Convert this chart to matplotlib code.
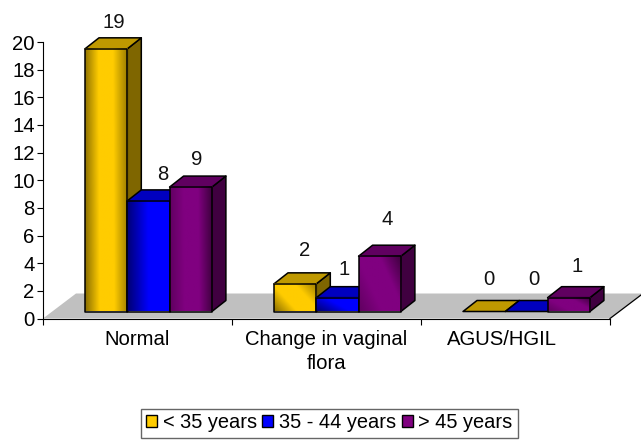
import matplotlib
matplotlib.use('Agg')
import matplotlib.pyplot as plt
import numpy as np
from matplotlib.colors import LinearSegmentedColormap
from matplotlib.patches import Patch, Polygon

plt.rcParams['font.family'] = ['Liberation Sans', 'DejaVu Sans']
plt.rcParams['font.size'] = 14.6

categories = ['Normal', 'Change in vaginal\nflora', 'AGUS/HGIL']
series = ['< 35 years', '35 - 44 years', '> 45 years']
young = [19, 2, 0]
middle = [8, 1, 0]
old = [9, 4, 1]
yticks = list(range(0, 21, 2))

# gradient stops, then top and side colours
styles = [
    (['#8a6e00', '#ffcc00', '#ffcc00', '#9a7b00'], '#bf9900', '#7f6600'),
    (['#000070', '#0000ff', '#0000ff'], '#0000bf', '#00007f'),
    (['#600060', '#800080', '#800080', '#3a003a'], '#600060', '#400040'),
]
legend_colors = ['#ffcc00', '#0000ff', '#800080']

# sizes in axes units (1 category wide, 1 per count high)
px_x = 1 / 189
px_y = 20 / 276.5
bar_w = 42.3 * px_x
depth_x = 14 * px_x
depth_y = 11 * px_y
base = 7 * px_y
floor_x = 33 * px_x
floor_y = 25 * px_y
centres = [0.5579, 1.5579, 2.558]
label_shift = [[(8, 26), (14, 26), (6, 28)],
               [(9, 33), (7, 28), (7, 37)],
               [(5, 32), (7, 32), (8, 31)]]
name_x = [0.5, 1.5, 2.43]

fig = plt.figure(figsize=(6.41, 4.41), dpi=100)
ax = fig.add_axes([43 / 641, (441 - 318.5) / 441, 567 / 641, 276.5 / 441])
ax.set_xlim(0, 3)
ax.set_ylim(0, 20)

ax.add_patch(Polygon([(0, 0), (floor_x, floor_y), (3 + floor_x, floor_y), (3, 0)],
                     closed=True, facecolor='#c0c0c0', edgecolor='none',
                     clip_on=False, zorder=1))
ax.plot([3, 3 + floor_x], [0, floor_y], color='black', lw=0.9, clip_on=False, zorder=1)

u, v = np.meshgrid(np.linspace(0, 1, 64), np.linspace(0, 1, 64))

z = 2
for g, centre in enumerate(centres):
    for s, values in enumerate([young, middle, old]):
        val = values[g]
        x0 = centre + (s - 1.5) * bar_w
        x1 = x0 + bar_w
        y0 = base
        y1 = base + val
        colors, top, side = styles[s]
        ec = dict(edgecolor='black', linewidth=1.1, clip_on=False, joinstyle='round')
        ax.add_patch(Polygon([(x1, y0), (x1 + depth_x, y0 + depth_y),
                              (x1 + depth_x, y1 + depth_y), (x1, y1)],
                             facecolor=side, zorder=z, **ec))
        ax.add_patch(Polygon([(x0, y1), (x0 + depth_x, y1 + depth_y),
                              (x1 + depth_x, y1 + depth_y), (x1, y1)],
                             facecolor=top, zorder=z, **ec))
        if val > 0:
            cmap = LinearSegmentedColormap.from_list('bar', colors)
            # short bars show the gradient slanted
            slant = 0.6 if val <= 4 else 0.03
            shade = (u + slant * v) / (1 + slant)
            ax.imshow(shade, cmap=cmap, aspect='auto', origin='lower',
                      extent=(x0, x1, y0, y1), zorder=z, clip_on=False,
                      interpolation='bilinear')
            ax.add_patch(Polygon([(x0, y0), (x0, y1), (x1, y1), (x1, y0)],
                                 facecolor='none', zorder=z, **ec))
        dx, dy = label_shift[g][s]
        ax.annotate(str(val), xy=((x0 + x1) / 2, y1), xytext=(dx * 0.72, dy * 0.72),
                    textcoords='offset points', ha='center', va='center',
                    annotation_clip=False, zorder=20, color='#111111')
        z += 1

ax.set_xlim(0, 3)
ax.set_ylim(0, 20)
ax.spines['top'].set_visible(False)
ax.spines['right'].set_visible(False)
ax.set_xticks([0, 1, 2, 3])
ax.set_xticklabels([])
ax.set_yticks(yticks)
ax.tick_params(axis='both', length=4, width=0.8, pad=2, labelsize=14.6)
for i, name in enumerate(categories):
    ax.text(name_x[i], -0.85, name, ha='center', va='top', linespacing=1.3)

handles = [Patch(facecolor=c, edgecolor='black', linewidth=1) for c in legend_colors]
leg = fig.legend(handles, series, loc='center', bbox_to_anchor=(329.5 / 641, 1 - 423 / 441),
                 ncol=3, fontsize=14.4, frameon=True, fancybox=False, edgecolor='#666666',
                 framealpha=1, handlelength=0.55, handleheight=0.55, handletextpad=0.3,
                 columnspacing=0.25, borderpad=0.25, borderaxespad=0)
leg.get_frame().set_linewidth(1)

fig.savefig('out.png', dpi=100)
